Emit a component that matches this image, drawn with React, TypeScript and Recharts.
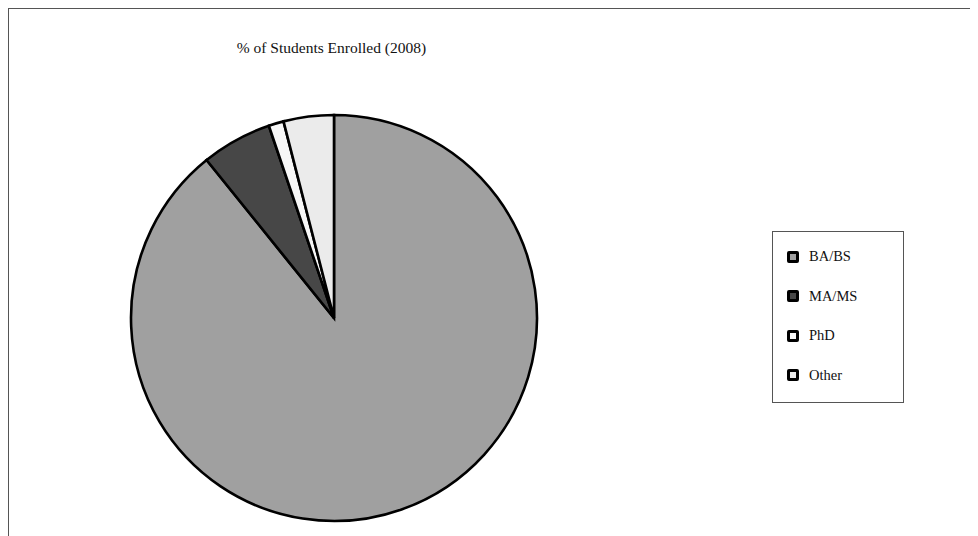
import React from 'react';
import { PieChart, Pie, Cell, Legend } from 'recharts';

const categories = ['BA/BS', 'MA/MS', 'PhD', 'Other'];
const shares = [89.2, 5.6, 1.2, 4.0];
const colors = ['#a0a0a0', '#474747', '#f7f7f7', '#ebebeb'];
const title = '% of Students Enrolled (2008)';

const data = categories.map((name, i) => ({ name, value: shares[i] }));

const font = '"Liberation Serif", "Times New Roman", serif';

const LegendBox = () => (
  <div
    style={{
      width: 132,
      height: 172,
      border: '1px solid #555',
      boxSizing: 'border-box',
      padding: '5px 0 0 14px',
      fontFamily: font,
      fontSize: 14.5,
      color: '#111',
      background: '#fff',
    }}
  >
    {data.map((d, i) => (
      <div key={d.name} style={{ display: 'flex', alignItems: 'center', height: 39.5 }}>
        <span
          style={{
            display: 'inline-block',
            width: 6,
            height: 6,
            border: '3px solid #000',
            borderRadius: 2,
            background: colors[i],
            marginRight: 10,
          }}
        />
        <span>{d.name}</span>
      </div>
    ))}
  </div>
);

export default function App() {
  return (
    <div
      style={{
        position: 'relative',
        width: 970,
        height: 528,
        boxSizing: 'border-box',
        overflow: 'hidden',
        borderLeft: '1px solid #555',
        borderTop: '1px solid #555',
        background: '#fff',
      }}
    >
      <div
        style={{
          position: 'absolute',
          left: 0,
          top: 30,
          width: 645,
          textAlign: 'center',
          fontFamily: font,
          fontSize: 15.5,
          color: '#111',
        }}
      >
        {title}
      </div>
      <PieChart width={968} height={526} margin={{ top: 0, right: 0, bottom: 0, left: 0 }}>
        <Pie
          data={data}
          dataKey="value"
          nameKey="name"
          cx={325}
          cy={309}
          outerRadius={203}
          startAngle={90}
          endAngle={-270}
          stroke="#000"
          strokeWidth={2.6}
          isAnimationActive={false}
          labelLine={false}
        >
          {data.map((d, i) => (
            <Cell key={d.name} fill={colors[i]} />
          ))}
        </Pie>
        <Legend
          layout="vertical"
          content={<LegendBox />}
          wrapperStyle={{ left: 763, top: 222, width: 132, height: 172 }}
        />
      </PieChart>
    </div>
  );
}
